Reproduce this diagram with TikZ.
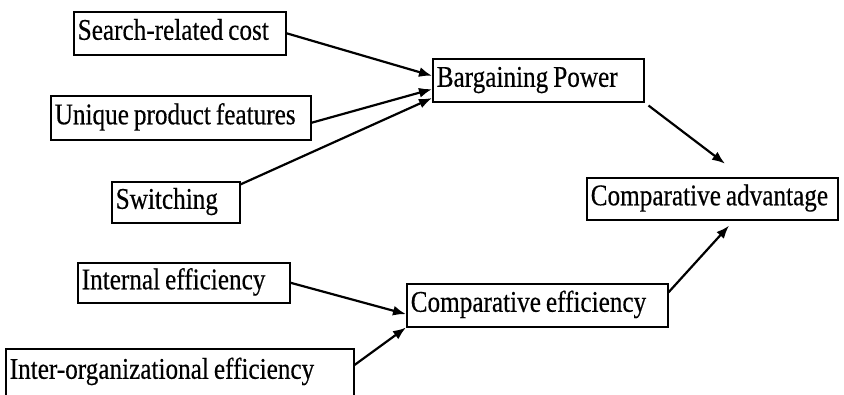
\documentclass[tikz,border=0pt]{standalone}
\usepackage{fontspec}
\setmainfont[FakeStretch=0.84,FakeBold=0.4]{Liberation Serif}
\usetikzlibrary{arrows.meta,calc}
\newcommand\tightspaces{\spaceskip=5pt plus 1pt\relax}
\begin{document}
\begin{tikzpicture}[x=1pt,y=-1pt,
  box/.style={draw,line width=1.5pt,anchor=north west,inner xsep=4pt,inner ysep=0pt,
    text height=21pt,text depth=8pt,align=left,font=\fontsize{30pt}{34pt}\selectfont,
    execute at begin node=\tightspaces},
  arr/.style={line width=2.2pt,-{Latex[length=13pt,width=10pt]}}]
\useasboundingbox (0,0) rectangle (844,394);
\clip (0,0) rectangle (844,394);
\node[box,text width=204pt,minimum height=43pt] (search) at (73,11) {\mbox{Search-related cost}};
\node[box,text width=252pt,minimum height=44pt] (unique) at (50,95) {\mbox{Unique product features}};
\node[box,text width=120pt,minimum height=41pt] (switching) at (111,181) {\mbox{Switching}};
\node[box,text width=203pt,minimum height=43pt] (bp) at (432,58) {\mbox{Bargaining Power}};
\node[box,text width=243pt,minimum height=42pt] (ca) at (586,177) {\mbox{Comparative advantage}};
\node[box,text width=253pt,minimum height=43pt] (ce) at (406,283) {\mbox{Comparative efficiency}};
\node[box,text width=204pt,minimum height=40pt] (ie) at (77,262) {\mbox{Internal efficiency}};
\node[box,text width=340pt,minimum height=50pt,text depth=11pt] (io) at (5,348) {\mbox{Inter-organizational efficiency}};
\draw[arr] (search.east) -- ($(bp.north west)!0.4!(bp.south west)$);
\draw[arr] ($(unique.north east)!0.61!(unique.south east)$) -- ($(bp.north west)!0.7!(bp.south west)$);
\draw[arr] ($(switching.north east)!0.08!(switching.south east)$) -- ($(bp.north west)!0.9!(bp.south west)$);
\draw[arr,shorten <=5pt,shorten >=22pt] (bp.south east) -- ($(ca.north west)!0.62!(ca.north east)$);
\draw[arr,shorten >=7pt] ($(ce.north east)!0.21!(ce.south east)$) -- ($(ca.south west)!0.585!(ca.south east)$);
\draw[arr] (ie.east) -- ($(ce.north west)!0.7!(ce.south west)$);
\draw[arr] ($(io.north east)+(0,17)$) -- (ce.south west);
\end{tikzpicture}
\end{document}
